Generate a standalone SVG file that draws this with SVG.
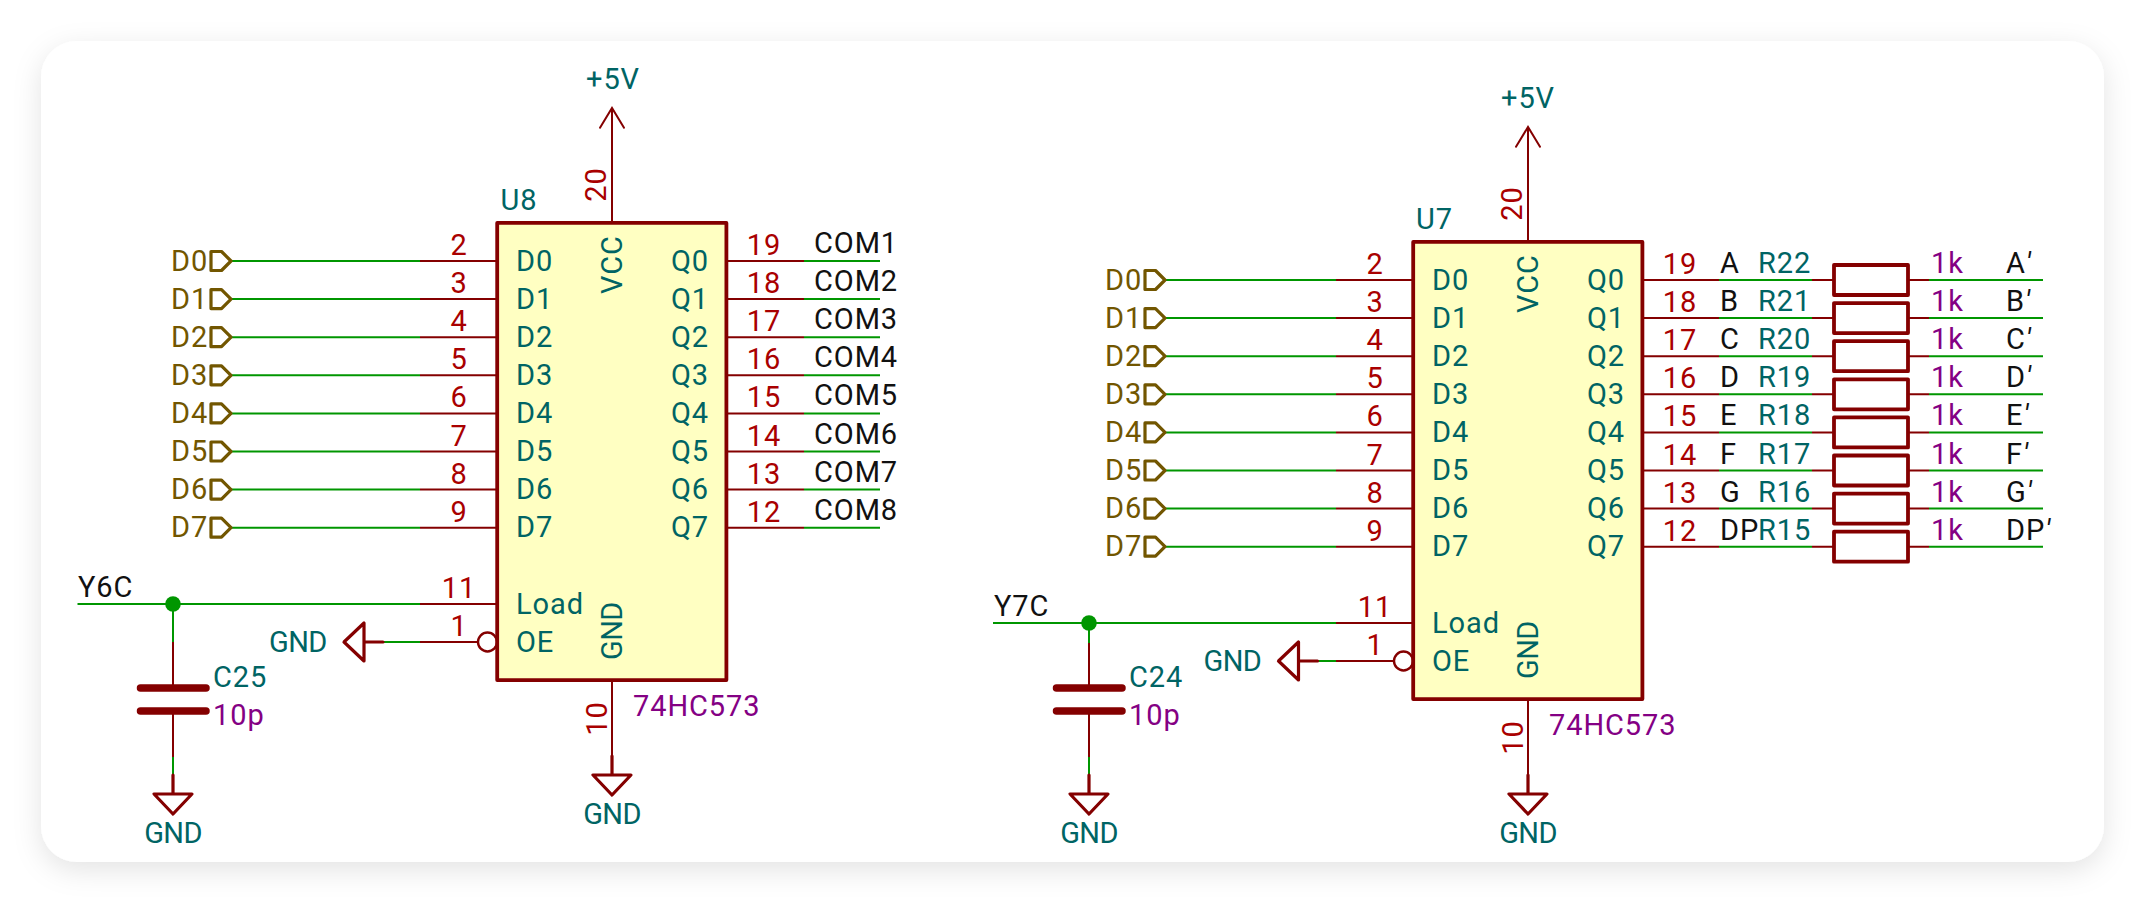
<svg xmlns="http://www.w3.org/2000/svg" width="2145" height="903" viewBox="0 0 2145 903">
<style>
text{font-family:Roboto,"Liberation Sans",sans-serif;font-size:29px;font-weight:400;letter-spacing:.9px}
.num{fill:#a90000;text-anchor:middle}
.nm{fill:#006464}
.r{text-anchor:end}
.m{text-anchor:middle}
.g{letter-spacing:-.6px}
.val{fill:#840084}
.lab{fill:#111}
.hl{fill:#725600}
.w{stroke:#009600;stroke-width:2;fill:none}
.p{stroke:#840000;stroke-width:2;fill:none}
.sym{stroke:#840000;stroke-width:3.2;fill:none;stroke-linejoin:round;stroke-linecap:round}
.thin{stroke:#840000;stroke-width:2;fill:none;stroke-linecap:round}
.hier{stroke:#725600;stroke-width:3.2;fill:none;stroke-linejoin:round}
.box{stroke:#840000;stroke-width:3.8;fill:#ffffc2;stroke-linejoin:round}
.res{stroke:#840000;stroke-width:3.8;fill:#fff;stroke-linejoin:round}
.plate{stroke:#840000;stroke-width:7.5;stroke-linecap:round}
.bub{stroke:#840000;stroke-width:2.4;fill:#fff}
.j{fill:#009600}
.pr{font-style:italic}
</style>
<defs>
<filter id="shadow" x="-5%" y="-10%" width="110%" height="120%"><feDropShadow dx="0" dy="8" stdDeviation="14" flood-color="#000" flood-opacity="0.11"/></filter>
<path id="hier" class="hier" d="M0 0L-9.5 -9.5H-20V9.5H-9.5Z"/>
<path id="gndd" class="sym" d="M0 -19V0M-19 0H19L0 20Z"/>
<path id="gndl" class="sym" d="M19 0H0M0 -19V19L-20 0Z"/>
<path id="arrow" class="thin" d="M-12 19.7L0 0L12 19.7"/>
</defs>
<rect x="41" y="41" width="2063" height="821" rx="36" fill="#fff" filter="url(#shadow)"/>
<g id="connectors">
<path class="w" d="M231 261H420"/><path class="p" d="M420 261H497"/>
<path class="w" d="M231 299.1H420"/><path class="p" d="M420 299.1H497"/>
<path class="w" d="M231 337.2H420"/><path class="p" d="M420 337.2H497"/>
<path class="w" d="M231 375.3H420"/><path class="p" d="M420 375.3H497"/>
<path class="w" d="M231 413.4H420"/><path class="p" d="M420 413.4H497"/>
<path class="w" d="M231 451.5H420"/><path class="p" d="M420 451.5H497"/>
<path class="w" d="M231 489.6H420"/><path class="p" d="M420 489.6H497"/>
<path class="w" d="M231 527.7H420"/><path class="p" d="M420 527.7H497"/>
<path class="w" d="M77.5 604H420"/><path class="p" d="M420 604H497"/>
<path class="w" d="M383 642H420"/><path class="p" d="M420 642H478"/>
<path class="w" d="M173 604V642"/><path class="p" d="M173 642V688M173 711V757"/><path class="w" d="M173 757V775"/>
<path class="p" d="M612 223V108"/><path class="p" d="M612 680V756"/>
<path class="p" d="M726 261H804"/><path class="w" d="M804 261H880"/>
<path class="p" d="M726 299.1H804"/><path class="w" d="M804 299.1H880"/>
<path class="p" d="M726 337.2H804"/><path class="w" d="M804 337.2H880"/>
<path class="p" d="M726 375.3H804"/><path class="w" d="M804 375.3H880"/>
<path class="p" d="M726 413.4H804"/><path class="w" d="M804 413.4H880"/>
<path class="p" d="M726 451.5H804"/><path class="w" d="M804 451.5H880"/>
<path class="p" d="M726 489.6H804"/><path class="w" d="M804 489.6H880"/>
<path class="p" d="M726 527.7H804"/><path class="w" d="M804 527.7H880"/>

<path class="w" d="M1165 280H1336"/><path class="p" d="M1336 280H1413"/>
<path class="w" d="M1165 318.1H1336"/><path class="p" d="M1336 318.1H1413"/>
<path class="w" d="M1165 356.2H1336"/><path class="p" d="M1336 356.2H1413"/>
<path class="w" d="M1165 394.3H1336"/><path class="p" d="M1336 394.3H1413"/>
<path class="w" d="M1165 432.4H1336"/><path class="p" d="M1336 432.4H1413"/>
<path class="w" d="M1165 470.5H1336"/><path class="p" d="M1336 470.5H1413"/>
<path class="w" d="M1165 508.6H1336"/><path class="p" d="M1336 508.6H1413"/>
<path class="w" d="M1165 546.7H1336"/><path class="p" d="M1336 546.7H1413"/>
<path class="w" d="M993 623H1336"/><path class="p" d="M1336 623H1413"/>
<path class="w" d="M1318 661H1336"/><path class="p" d="M1336 661H1394"/>
<path class="w" d="M1089 623V643"/><path class="p" d="M1089 643V688M1089 711V757"/><path class="w" d="M1089 757V775"/>
<path class="p" d="M1528 242V127"/><path class="p" d="M1528 699V775"/>
<path class="p" d="M1642 280H1719M1812 280H1834M1908 280H1929"/><path class="w" d="M1719 280H1812M1929 280H2043"/>
<path class="p" d="M1642 318.1H1719M1812 318.1H1834M1908 318.1H1929"/><path class="w" d="M1719 318.1H1812M1929 318.1H2043"/>
<path class="p" d="M1642 356.2H1719M1812 356.2H1834M1908 356.2H1929"/><path class="w" d="M1719 356.2H1812M1929 356.2H2043"/>
<path class="p" d="M1642 394.3H1719M1812 394.3H1834M1908 394.3H1929"/><path class="w" d="M1719 394.3H1812M1929 394.3H2043"/>
<path class="p" d="M1642 432.4H1719M1812 432.4H1834M1908 432.4H1929"/><path class="w" d="M1719 432.4H1812M1929 432.4H2043"/>
<path class="p" d="M1642 470.5H1719M1812 470.5H1834M1908 470.5H1929"/><path class="w" d="M1719 470.5H1812M1929 470.5H2043"/>
<path class="p" d="M1642 508.6H1719M1812 508.6H1834M1908 508.6H1929"/><path class="w" d="M1719 508.6H1812M1929 508.6H2043"/>
<path class="p" d="M1642 546.7H1719M1812 546.7H1834M1908 546.7H1929"/><path class="w" d="M1719 546.7H1812M1929 546.7H2043"/>
</g>

<g id="U8">
<circle class="bub" cx="487.5" cy="642" r="9.5"/>
<rect class="box" x="497.2" y="222.9" width="229.2" height="457.2"/>
<text class="nm" x="500.5" y="210">U8</text>
<text class="val" x="633" y="716">74HC573</text>
<text class="nm" x="516" y="270.5">D0</text><text class="nm" x="516" y="308.6">D1</text><text class="nm" x="516" y="346.7">D2</text><text class="nm" x="516" y="384.8">D3</text><text class="nm" x="516" y="422.9">D4</text><text class="nm" x="516" y="461">D5</text><text class="nm" x="516" y="499.1">D6</text><text class="nm" x="516" y="537.2">D7</text>
<text class="nm" x="516" y="613.7">Load</text><text class="nm" x="516" y="651.7">OE</text>
<text class="nm r" x="709" y="270.5">Q0</text><text class="nm r" x="709" y="308.6">Q1</text><text class="nm r" x="709" y="346.7">Q2</text><text class="nm r" x="709" y="384.8">Q3</text><text class="nm r" x="709" y="422.9">Q4</text><text class="nm r" x="709" y="461">Q5</text><text class="nm r" x="709" y="499.1">Q6</text><text class="nm r" x="709" y="537.2">Q7</text>
<text class="nm" transform="translate(622,294) rotate(-90)">VCC</text><text class="nm g" transform="translate(622,660) rotate(-90)">GND</text>
<text class="num" x="459" y="255">2</text><text class="num" x="459" y="293.1">3</text><text class="num" x="459" y="331.2">4</text><text class="num" x="459" y="369.3">5</text><text class="num" x="459" y="407.4">6</text><text class="num" x="459" y="445.5">7</text><text class="num" x="459" y="483.6">8</text><text class="num" x="459" y="521.7">9</text><text class="num" x="459" y="598">11</text><text class="num" x="459" y="636">1</text>
<text class="num" x="764" y="255">19</text><text class="num" x="764" y="293.1">18</text><text class="num" x="764" y="331.2">17</text><text class="num" x="764" y="369.3">16</text><text class="num" x="764" y="407.4">15</text><text class="num" x="764" y="445.5">14</text><text class="num" x="764" y="483.6">13</text><text class="num" x="764" y="521.7">12</text>
<text class="num" transform="translate(606,184.5) rotate(-90)">20</text><text class="num" transform="translate(607,718.5) rotate(-90)">10</text>
</g>

<g id="U7">
<circle class="bub" cx="1403.5" cy="661" r="9.5"/>
<rect class="box" x="1413.2" y="241.9" width="229.2" height="457.2"/>
<g transform="translate(916,19)">
<text class="nm" x="500" y="210">U7</text>
<text class="val" x="633" y="716">74HC573</text>
<text class="nm" x="516" y="270.5">D0</text><text class="nm" x="516" y="308.6">D1</text><text class="nm" x="516" y="346.7">D2</text><text class="nm" x="516" y="384.8">D3</text><text class="nm" x="516" y="422.9">D4</text><text class="nm" x="516" y="461">D5</text><text class="nm" x="516" y="499.1">D6</text><text class="nm" x="516" y="537.2">D7</text>
<text class="nm" x="516" y="613.7">Load</text><text class="nm" x="516" y="651.7">OE</text>
<text class="nm r" x="709" y="270.5">Q0</text><text class="nm r" x="709" y="308.6">Q1</text><text class="nm r" x="709" y="346.7">Q2</text><text class="nm r" x="709" y="384.8">Q3</text><text class="nm r" x="709" y="422.9">Q4</text><text class="nm r" x="709" y="461">Q5</text><text class="nm r" x="709" y="499.1">Q6</text><text class="nm r" x="709" y="537.2">Q7</text>
<text class="nm" transform="translate(622,294) rotate(-90)">VCC</text><text class="nm g" transform="translate(622,660) rotate(-90)">GND</text>
<text class="num" x="459" y="255">2</text><text class="num" x="459" y="293.1">3</text><text class="num" x="459" y="331.2">4</text><text class="num" x="459" y="369.3">5</text><text class="num" x="459" y="407.4">6</text><text class="num" x="459" y="445.5">7</text><text class="num" x="459" y="483.6">8</text><text class="num" x="459" y="521.7">9</text><text class="num" x="459" y="598">11</text><text class="num" x="459" y="636">1</text>
<text class="num" x="764" y="255">19</text><text class="num" x="764" y="293.1">18</text><text class="num" x="764" y="331.2">17</text><text class="num" x="764" y="369.3">16</text><text class="num" x="764" y="407.4">15</text><text class="num" x="764" y="445.5">14</text><text class="num" x="764" y="483.6">13</text><text class="num" x="764" y="521.7">12</text>
<text class="num" transform="translate(606,184.5) rotate(-90)">20</text><text class="num" transform="translate(607,718.5) rotate(-90)">10</text>
</g>
</g>

<g id="labels-u8-data">
<g id="hl8-D0"><use href="#hier" x="231" y="261"/><text class="hl" x="171" y="270.5">D0</text></g>
<g id="hl8-D1"><use href="#hier" x="231" y="299.1"/><text class="hl" x="171" y="308.6">D1</text></g>
<g id="hl8-D2"><use href="#hier" x="231" y="337.2"/><text class="hl" x="171" y="346.7">D2</text></g>
<g id="hl8-D3"><use href="#hier" x="231" y="375.3"/><text class="hl" x="171" y="384.8">D3</text></g>
<g id="hl8-D4"><use href="#hier" x="231" y="413.4"/><text class="hl" x="171" y="422.9">D4</text></g>
<g id="hl8-D5"><use href="#hier" x="231" y="451.5"/><text class="hl" x="171" y="461">D5</text></g>
<g id="hl8-D6"><use href="#hier" x="231" y="489.6"/><text class="hl" x="171" y="499.1">D6</text></g>
<g id="hl8-D7"><use href="#hier" x="231" y="527.7"/><text class="hl" x="171" y="537.2">D7</text></g>
</g>
<g id="labels-u7-data">
<g id="hl7-D0"><use href="#hier" x="1165" y="280"/><text class="hl" x="1105" y="289.5">D0</text></g>
<g id="hl7-D1"><use href="#hier" x="1165" y="318.1"/><text class="hl" x="1105" y="327.6">D1</text></g>
<g id="hl7-D2"><use href="#hier" x="1165" y="356.2"/><text class="hl" x="1105" y="365.7">D2</text></g>
<g id="hl7-D3"><use href="#hier" x="1165" y="394.3"/><text class="hl" x="1105" y="403.8">D3</text></g>
<g id="hl7-D4"><use href="#hier" x="1165" y="432.4"/><text class="hl" x="1105" y="441.9">D4</text></g>
<g id="hl7-D5"><use href="#hier" x="1165" y="470.5"/><text class="hl" x="1105" y="480">D5</text></g>
<g id="hl7-D6"><use href="#hier" x="1165" y="508.6"/><text class="hl" x="1105" y="518.1">D6</text></g>
<g id="hl7-D7"><use href="#hier" x="1165" y="546.7"/><text class="hl" x="1105" y="556.2">D7</text></g>
</g>

<g id="com-labels">
<text class="lab" x="814" y="253">COM1</text><text class="lab" x="814" y="291.1">COM2</text><text class="lab" x="814" y="329.2">COM3</text><text class="lab" x="814" y="367.3">COM4</text><text class="lab" x="814" y="405.4">COM5</text><text class="lab" x="814" y="443.5">COM6</text><text class="lab" x="814" y="481.6">COM7</text><text class="lab" x="814" y="519.7">COM8</text>
</g>
<g id="seg-labels">
<text class="lab" x="1720" y="273">A</text><text class="lab" x="1720" y="311.1">B</text><text class="lab" x="1720" y="349.2">C</text><text class="lab" x="1720" y="387.3">D</text><text class="lab" x="1720" y="425.4">E</text><text class="lab" x="1720" y="463.5">F</text><text class="lab" x="1720" y="501.6">G</text><text class="lab" x="1720" y="539.7">DP</text>
<text class="lab" x="2006" y="273">A<tspan class="pr">′</tspan></text><text class="lab" x="2006" y="311.1">B<tspan class="pr">′</tspan></text><text class="lab" x="2006" y="349.2">C<tspan class="pr">′</tspan></text><text class="lab" x="2006" y="387.3">D<tspan class="pr">′</tspan></text><text class="lab" x="2006" y="425.4">E<tspan class="pr">′</tspan></text><text class="lab" x="2006" y="463.5">F<tspan class="pr">′</tspan></text><text class="lab" x="2006" y="501.6">G<tspan class="pr">′</tspan></text><text class="lab" x="2006" y="539.7">DP<tspan class="pr">′</tspan></text>
</g>

<g id="R22"><rect class="res" x="1834" y="265" width="74" height="30"/><text class="nm" x="1758" y="273">R22</text><text class="val" x="1931" y="273">1k</text></g>
<g id="R21"><rect class="res" x="1834" y="303.1" width="74" height="30"/><text class="nm" x="1758" y="311.1">R21</text><text class="val" x="1931" y="311.1">1k</text></g>
<g id="R20"><rect class="res" x="1834" y="341.2" width="74" height="30"/><text class="nm" x="1758" y="349.2">R20</text><text class="val" x="1931" y="349.2">1k</text></g>
<g id="R19"><rect class="res" x="1834" y="379.3" width="74" height="30"/><text class="nm" x="1758" y="387.3">R19</text><text class="val" x="1931" y="387.3">1k</text></g>
<g id="R18"><rect class="res" x="1834" y="417.4" width="74" height="30"/><text class="nm" x="1758" y="425.4">R18</text><text class="val" x="1931" y="425.4">1k</text></g>
<g id="R17"><rect class="res" x="1834" y="455.5" width="74" height="30"/><text class="nm" x="1758" y="463.5">R17</text><text class="val" x="1931" y="463.5">1k</text></g>
<g id="R16"><rect class="res" x="1834" y="493.6" width="74" height="30"/><text class="nm" x="1758" y="501.6">R16</text><text class="val" x="1931" y="501.6">1k</text></g>
<g id="R15"><rect class="res" x="1834" y="531.7" width="74" height="30"/><text class="nm" x="1758" y="539.7">R15</text><text class="val" x="1931" y="539.7">1k</text></g>

<g id="C25"><path class="plate" d="M140.5 688H206M140.5 711H206"/><text class="nm" x="213" y="686.7">C25</text><text class="val" x="213" y="725">10p</text></g>
<g id="C24"><path class="plate" d="M1056.5 688H1122M1056.5 711H1122"/><text class="nm" x="1129" y="686.7">C24</text><text class="val" x="1129" y="725">10p</text></g>

<g id="net-Y6C"><circle class="j" cx="173" cy="604" r="7.8"/><text class="lab" x="78" y="597">Y6C</text></g>
<g id="net-Y7C"><circle class="j" cx="1089" cy="623" r="7.8"/><text class="lab" x="994" y="616">Y7C</text></g>

<g id="pwr-5V-u8"><use href="#arrow" x="612" y="108"/><text class="nm m" x="613" y="89">+5V</text></g>
<g id="pwr-5V-u7"><use href="#arrow" x="1528" y="127"/><text class="nm m" x="1528" y="108">+5V</text></g>
<g id="gnd-u8"><use href="#gndd" x="612" y="775"/><text class="nm m g" x="612" y="823.7">GND</text></g>
<g id="gnd-u7"><use href="#gndd" x="1528" y="794"/><text class="nm m g" x="1528" y="842.7">GND</text></g>
<g id="gnd-c25"><use href="#gndd" x="173" y="794"/><text class="nm m g" x="173" y="842.7">GND</text></g>
<g id="gnd-c24"><use href="#gndd" x="1089" y="794"/><text class="nm m g" x="1089" y="842.7">GND</text></g>
<g id="gnd-oe8"><use href="#gndl" x="364" y="642"/><text class="nm g" x="269" y="651.7">GND</text></g>
<g id="gnd-oe7"><use href="#gndl" x="1298.5" y="661"/><text class="nm g" x="1203.5" y="670.7">GND</text></g>
</svg>
